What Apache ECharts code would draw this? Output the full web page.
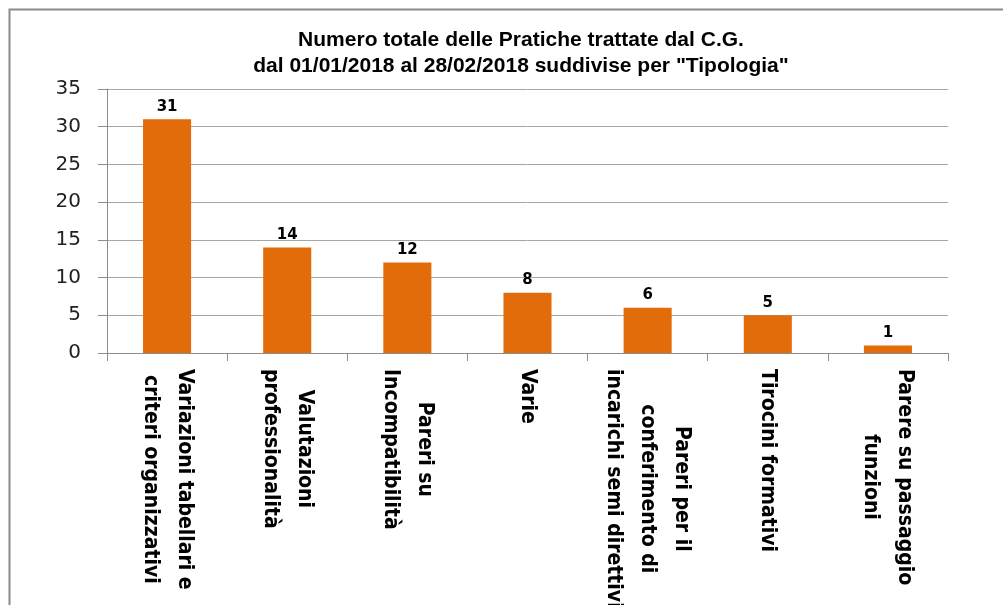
<!DOCTYPE html>
<html>
<head>
<meta charset="utf-8">
<script src="https://cdn.jsdelivr.net/npm/echarts@6/dist/echarts.min.js"></script>
<style>
  html, body { margin: 0; padding: 0; background: #fff; }
  #chart { width: 1003px; height: 605px; }
</style>
</head>
<body>
<div id="chart"></div>
<script>
// categorie (tipologie) e numero pratiche
const categories = [
  'Variazioni tabellari e\ncriteri organizzativi',
  'Valutazioni\nprofessionalità',
  'Pareri su\nIncompatibilità',
  'Varie',
  'Pareri per il\nconferimento di\nincarichi semi direttivi',
  'Tirocini formativi',
  'Parere su passaggio\nfunzioni'
];
const values = [31, 14, 12, 8, 6, 5, 1];
const yTicks = [0, 5, 10, 15, 20, 25, 30, 35];

const titleLines = [
  'Numero totale delle Pratiche trattate dal C.G.',
  'dal 01/01/2018 al 28/02/2018 suddivise per "Tipologia"'
];

const chart = echarts.init(document.getElementById('chart'), null, { renderer: 'canvas' });

const option = {
  animation: false,
  backgroundColor: '#fff',
  graphic: [
    {
      // bordo dell'area grafico (tagliato a destra e in basso)
      type: 'rect',
      left: 7, top: 7,
      shape: { width: 1200, height: 800 },
      style: { fill: 'none', stroke: '#8a8a8a', lineWidth: 2 },
      silent: true
    }
  ],
  title: {
    text: titleLines.join('\n'),
    left: 521,
    top: 27,
    padding: 0,
    textAlign: 'center',
    textStyle: {
      fontFamily: '"Liberation Sans", Arial, sans-serif',
      fontSize: 21,
      fontWeight: 'bold',
      color: '#000',
      lineHeight: 26,
      align: 'center'
    }
  },
  grid: {
    left: 107,
    top: 89,
    right: 55,
    bottom: 252,
    containLabel: false,
    outerBoundsMode: 'none'
  },
  xAxis: {
    type: 'category',
    data: categories,
    axisLine: { lineStyle: { color: '#8c8c8c', width: 1 } },
    axisTick: { show: true, length: 8, lineStyle: { color: '#8c8c8c' } },
    axisLabel: {
      interval: 0,
      rotate: -90,
      margin: 16,
      formatter: function (v) {
        return v.split('\n').map(s => '{c|' + s + '}').join('\n');
      },
      rich: {
        c: {
          align: 'center',
          fontFamily: '"Liberation Sans Narrow", "Arial Narrow", "DejaVu Sans Condensed", sans-serif',
          fontSize: 21,
          fontWeight: 'bold',
          color: '#000',
          lineHeight: 34
        }
      }
    }
  },
  yAxis: {
    type: 'value',
    min: yTicks[0],
    max: yTicks[yTicks.length - 1],
    interval: 5,
    axisLine: { show: true, lineStyle: { color: '#8c8c8c' } },
    axisTick: { show: true, length: 9, lineStyle: { color: '#8c8c8c' } },
    splitLine: { show: true, lineStyle: { color: '#a6a6a6', width: 1 } },
    axisLabel: {
      margin: 26,
      fontFamily: '"DejaVu Sans", Verdana, sans-serif',
      fontSize: 20,
      color: '#222'
    }
  },
  series: [
    {
      type: 'bar',
      data: values,
      barWidth: '40%',
      itemStyle: { color: '#E36C0A' },
      label: {
        show: true,
        position: 'top',
        distance: 5,
        fontFamily: '"DejaVu Sans", Verdana, sans-serif',
        fontSize: 15,
        fontWeight: 'bold',
        color: '#000'
      }
    }
  ]
};

chart.setOption(option);
</script>
</body>
</html>
